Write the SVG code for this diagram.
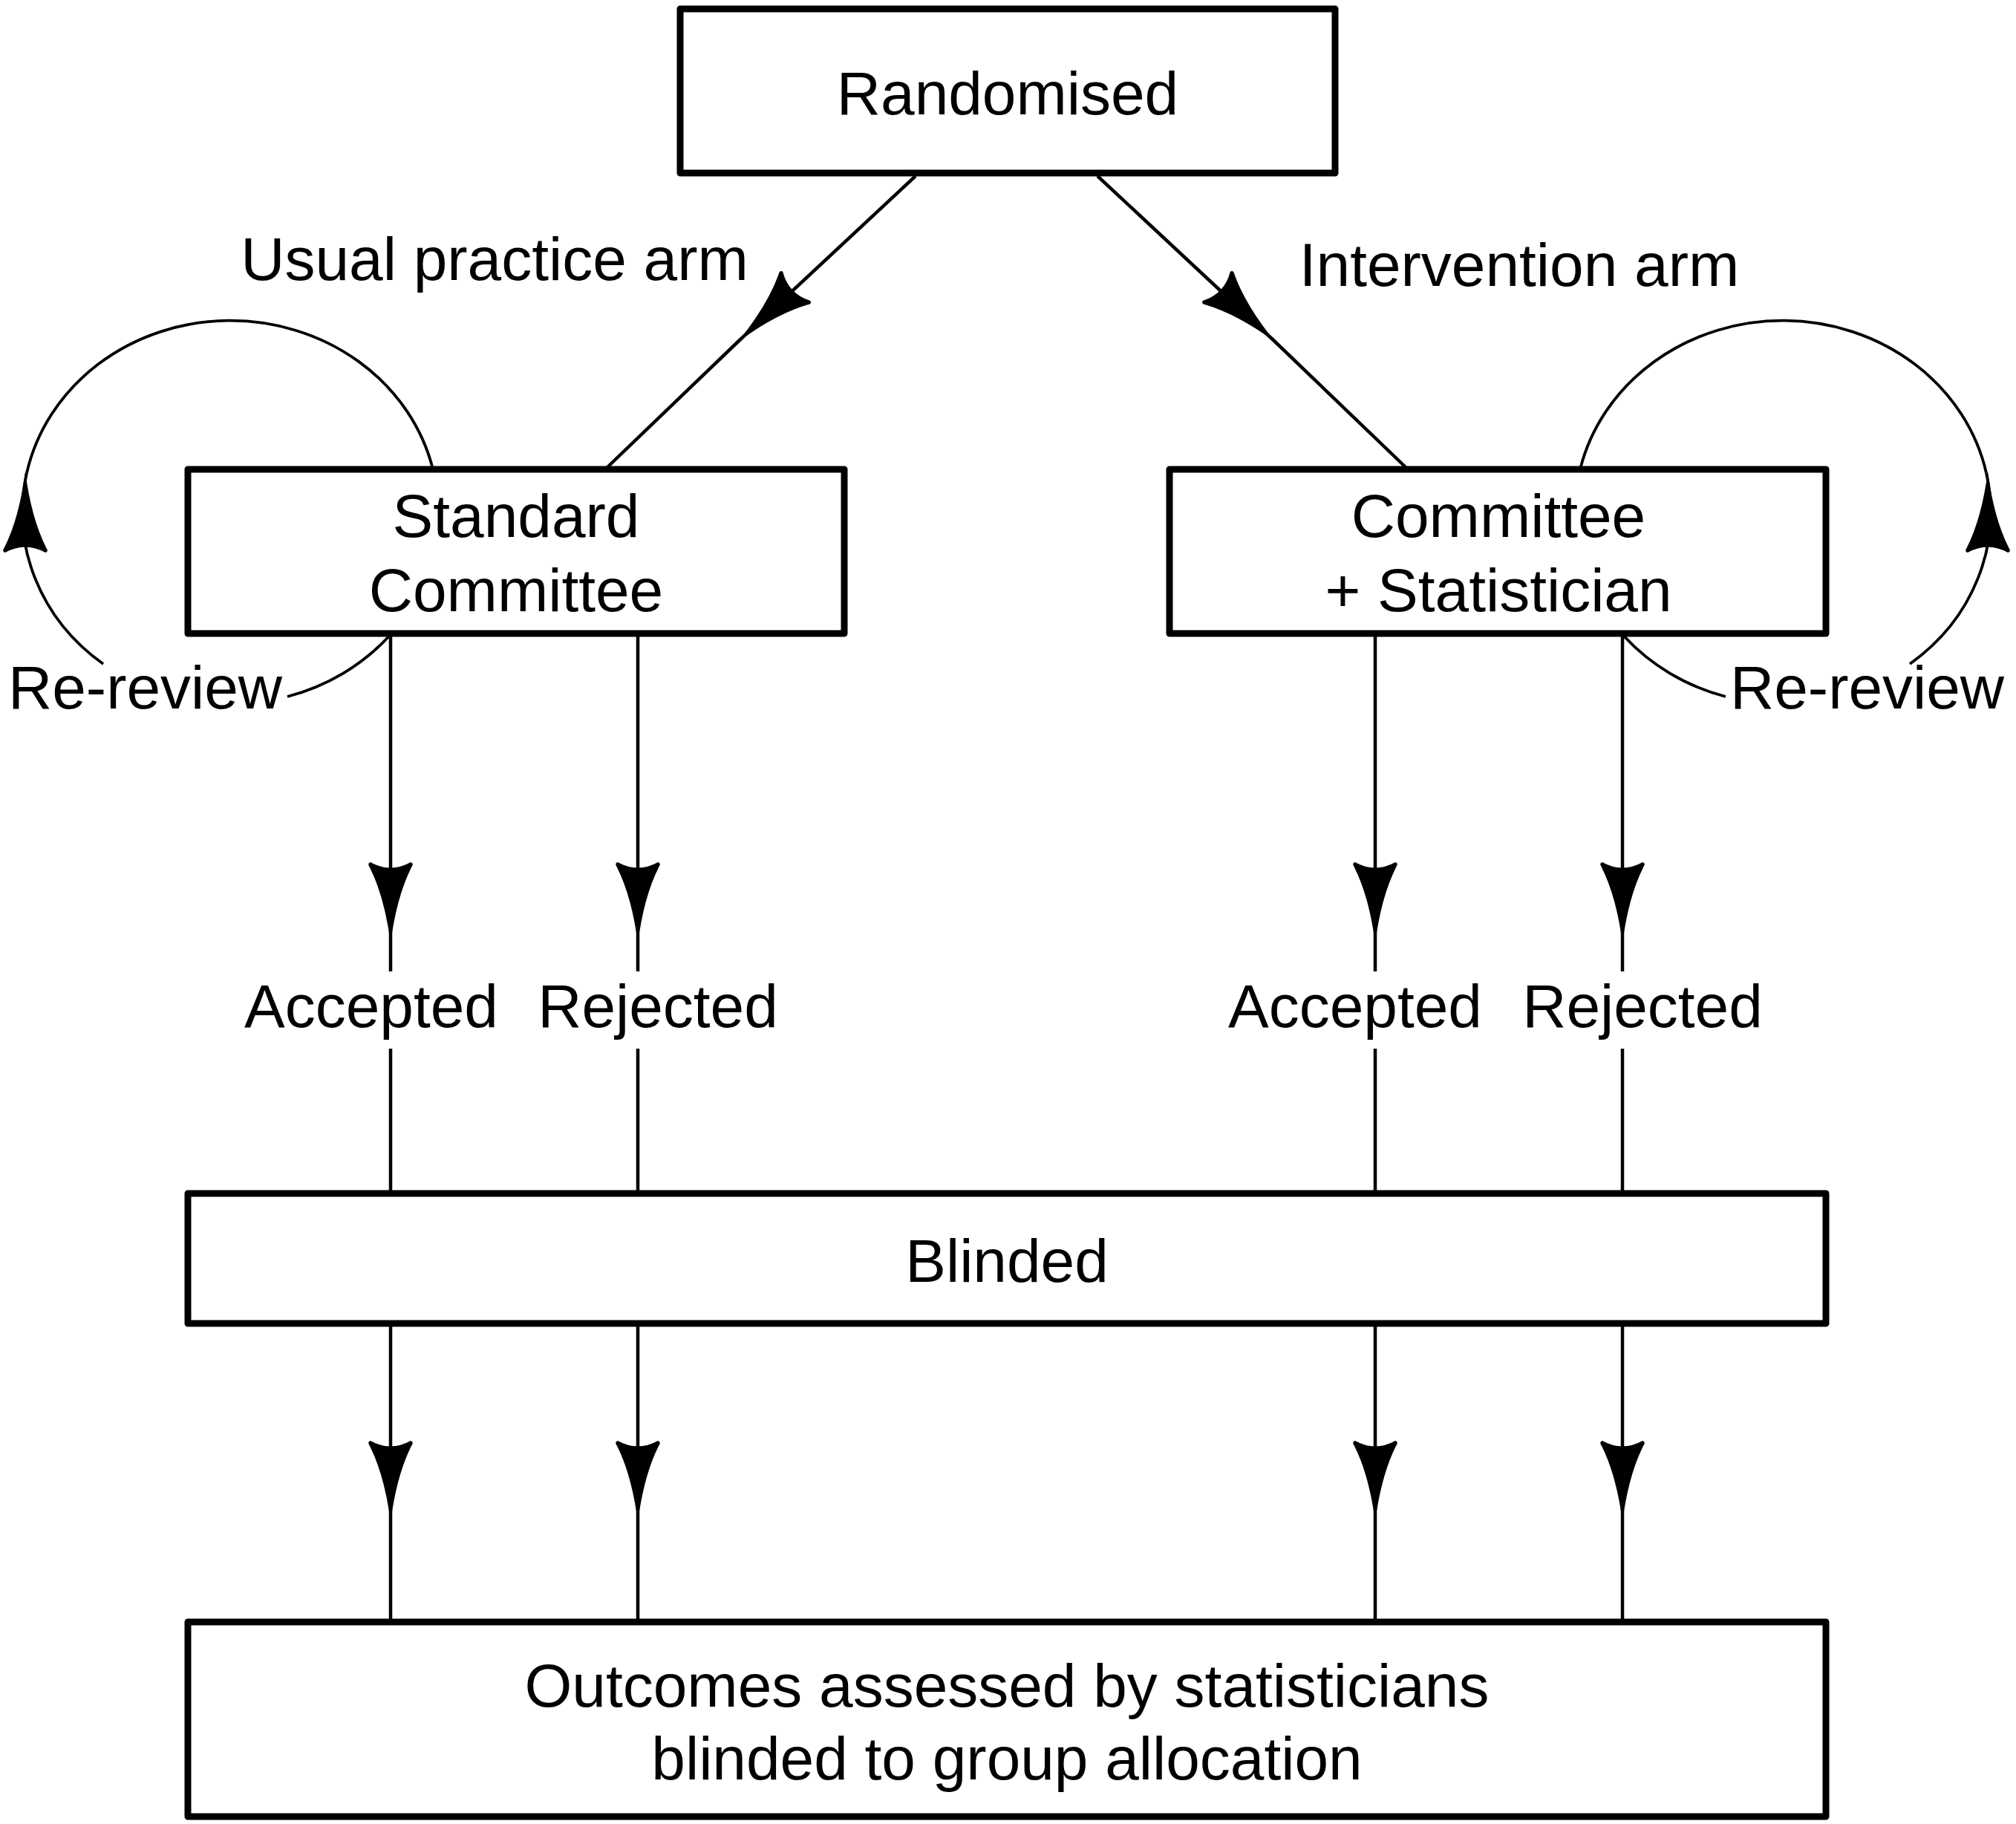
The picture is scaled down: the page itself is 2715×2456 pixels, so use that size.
<svg xmlns="http://www.w3.org/2000/svg" xmlns:xlink="http://www.w3.org/1999/xlink" width="2715" height="2456" viewBox="0 0 2715 2456">
<style>
.box{fill:#fff;stroke:#000;stroke-width:9;stroke-linejoin:round}
.ln{fill:none;stroke:#000;stroke-width:4.5}
.lp{fill:none;stroke:#000;stroke-width:3.8}
.t{font-family:"Liberation Sans",Arial,sans-serif;font-size:82px;fill:#000}
.c{text-anchor:middle}
</style>
<defs>
<path id="ahp" d="M2,0 Q-60,-8 -100,-28 Q-106,-32 -107,-27 Q-92,0 -107,27 Q-106,32 -100,28 Q-60,8 2,0 Z" fill="#000"/>
<marker id="ah" viewBox="-112 -36 118 72" markerWidth="118" markerHeight="72" refX="0" refY="0" orient="auto" markerUnits="userSpaceOnUse">
<use href="#ahp" xlink:href="#ahp"/>
</marker>
</defs>
<rect width="2715" height="2456" fill="#fff"/>
<g id="connectors">
<path class="ln" d="M1233 237 L995 459 L817 630" marker-mid="url(#ah)"/>
<path class="ln" d="M1478 237 L1716 459 L1894 630" marker-mid="url(#ah)"/>
<path class="ln" d="M526 857 V1268 V1308" marker-mid="url(#ah)"/>
<path class="ln" d="M859 857 V1268 V1308" marker-mid="url(#ah)"/>
<path class="ln" d="M1852 857 V1268 V1308" marker-mid="url(#ah)"/>
<path class="ln" d="M2185 857 V1268 V1308" marker-mid="url(#ah)"/>
<path class="ln" d="M526 1412 V1607"/>
<path class="ln" d="M859 1412 V1607"/>
<path class="ln" d="M1852 1412 V1607"/>
<path class="ln" d="M2185 1412 V1607"/>
<path class="ln" d="M526 1782 V2047 V2184" marker-mid="url(#ah)"/>
<path class="ln" d="M859 1782 V2047 V2184" marker-mid="url(#ah)"/>
<path class="ln" d="M1852 1782 V2047 V2184" marker-mid="url(#ah)"/>
<path class="ln" d="M2185 1782 V2047 V2184" marker-mid="url(#ah)"/>
<path class="lp" d="M523.5 857 A280 258 0 0 1 387 938"/>
<path class="lp" d="M139 894 A280 258 0 0 1 36 637"/>
<path class="lp" d="M36 637 A280 258 0 0 1 583 632"/>
<use href="#ahp" xlink:href="#ahp" transform="translate(34 637) rotate(-90)"/>
<path class="lp" d="M2187.5 857 A280 258 0 0 0 2324 938"/>
<path class="lp" d="M2572 894 A280 258 0 0 0 2675 637"/>
<path class="lp" d="M2675 637 A280 258 0 0 0 2128 632"/>
<use href="#ahp" xlink:href="#ahp" transform="translate(2677 637) rotate(-90)"/>
</g>
<g id="labels">
<text class="t c" x="666" y="377">Usual practice arm</text>
<text class="t c" x="2046" y="385">Intervention arm</text>
<text class="t" x="11" y="954">Re-review</text>
<text class="t" x="2330" y="954">Re-review</text>
<text class="t c" x="500" y="1383">Accepted</text>
<text class="t c" x="886" y="1383">Rejected</text>
<text class="t c" x="1825" y="1383">Accepted</text>
<text class="t c" x="2212" y="1383">Rejected</text>
</g>
<g id="randomised">
<rect class="box" x="916" y="12" width="882" height="221"/>
<text class="t c" x="1357" y="154">Randomised</text>
</g>
<g id="standard-committee">
<rect class="box" x="253" y="632" width="884" height="221"/>
<text class="t c" x="695" y="723">Standard</text>
<text class="t c" x="695" y="823">Committee</text>
</g>
<g id="committee-statistician">
<rect class="box" x="1575" y="632" width="884" height="221"/>
<text class="t c" x="2018" y="723">Committee</text>
<text class="t c" x="2018" y="823">+ Statistician</text>
</g>
<g id="blinded">
<rect class="box" x="253" y="1607" width="2206" height="175"/>
<text class="t c" x="1356" y="1726">Blinded</text>
</g>
<g id="outcomes">
<rect class="box" x="253" y="2184" width="2206" height="262"/>
<text class="t c" x="1356" y="2298">Outcomes assessed by statisticians</text>
<text class="t c" x="1356" y="2396">blinded to group allocation</text>
</g>
</svg>
